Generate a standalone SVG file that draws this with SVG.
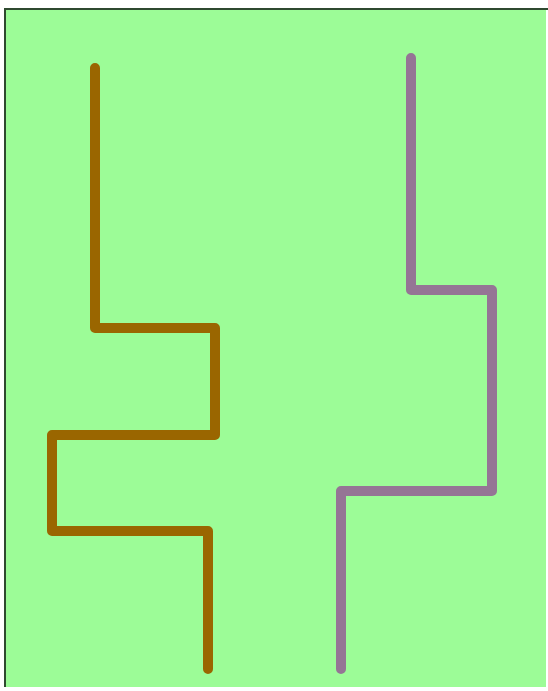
<svg xmlns="http://www.w3.org/2000/svg" width="548" height="691" viewBox="0 0 548 691">
<style>
.line{fill:none;stroke-width:10;stroke-linecap:round;stroke-linejoin:round}
</style>
<rect x="0" y="0" width="548" height="691" fill="#ffffff"/>
<rect x="5" y="9" width="541" height="678" fill="#9cfc97"/>
<path d="M5,687 V9 H548" fill="none" stroke="#2f4a30" stroke-width="2"/>
<g id="connectors">
<path id="brown" class="line" stroke="#9a6600" d="M95,68 V328 H215 V435 H52 V531 H208 V669"/>
<path id="purple" class="line" stroke="#957595" d="M411,58 V290 H492 V491 H341 V669"/>
</g>
</svg>
